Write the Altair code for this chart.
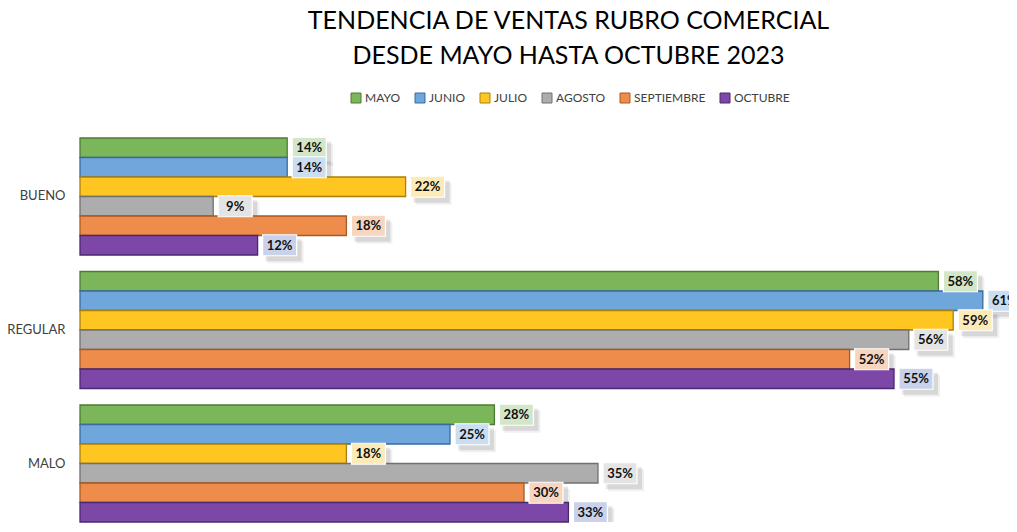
import altair as alt
import pandas as pd

categorias = ["BUENO", "REGULAR", "MALO"]
meses = ["MAYO", "JUNIO", "JULIO", "AGOSTO", "SEPTIEMBRE", "OCTUBRE"]
mayo = [14, 58, 28]
junio = [14, 61, 25]
julio = [22, 59, 18]
agosto = [9, 56, 35]
septiembre = [18, 52, 30]
octubre = [12, 55, 33]

colores = ["#7CB65A", "#6FA6DC", "#FFC622", "#ADADAD", "#EE8D4B", "#7D47A7"]
bordes = ["#4F7A35", "#3A6B9F", "#A9800B", "#707070", "#A85A24", "#4A2870"]
tintes = ["#D3E6C7", "#CBDDF1", "#FCEBB9", "#E4E4E4", "#F7D5BF", "#C9D2EA"]

series = [mayo, junio, julio, agosto, septiembre, octubre]
rows = []
for mes, vals, tinte in zip(meses, series, tintes):
    for cat, v in zip(categorias, vals):
        rows.append({"cat": cat, "mes": mes, "v": v / 100, "lab": f"{v}%", "tinte": tinte})
df = pd.DataFrame(rows)

FONT = "Lato"
XMAX = 0.6277

y_enc = alt.Y("cat:N", sort=categorias, title=None,
              scale=alt.Scale(paddingInner=0.1236, paddingOuter=0),
              axis=alt.Axis(domain=False, ticks=False, tickSize=0, labelPadding=15,
                            labelFont=FONT, labelFontSize=13, labelColor="#404040"))
yoff = alt.YOffset("mes:N", sort=meses, scale=alt.Scale(paddingInner=0, paddingOuter=0))
x_enc = alt.X("v:Q", title=None, scale=alt.Scale(domain=[0, XMAX], nice=False, zero=True),
              axis=None)

base = alt.Chart(df).encode(y=y_enc, yOffset=yoff, x=x_enc)

k = 17.0
def box_path(x0, x1, y0, y1):
    return f"M{x0/k:.4f},{y0/k:.4f}L{x1/k:.4f},{y0/k:.4f}L{x1/k:.4f},{y1/k:.4f}L{x0/k:.4f},{y1/k:.4f}Z"

p_box = box_path(5, 39, -10.5, 10.5)
p_sh1 = box_path(8, 44, -6, 16)
p_sh2 = box_path(10, 46, -4, 18)

shadow2 = base.mark_point(shape=p_sh2, size=k * k * 4, filled=True, fill="#000000",
                          opacity=0.06, strokeWidth=0, clip=True)
shadow1 = base.mark_point(shape=p_sh1, size=k * k * 4, filled=True, fill="#000000",
                          opacity=0.1, strokeWidth=0, clip=True)

bars = base.mark_bar(strokeWidth=1.3).encode(
    color=alt.Color("mes:N", sort=meses, title=None,
                    scale=alt.Scale(domain=meses, range=colores),
                    legend=alt.Legend(symbolType="square")),
    stroke=alt.Stroke("mes:N", sort=meses, title=None,
                      scale=alt.Scale(domain=meses, range=bordes)),
)

box = base.mark_point(shape=p_box, size=k * k * 4, filled=True, opacity=1,
                      stroke="#FFFFFF", strokeWidth=1.2, clip=True).encode(
    fill=alt.Fill("tinte:N", scale=None)
)

labels = base.mark_text(align="center", baseline="middle", dx=22, dy=0.5,
                        font=FONT, fontSize=13, fontWeight="bold",
                        color="#111111", clip=True).encode(text="lab:N")

chart = alt.layer(shadow2, shadow1, bars, box, labels).properties(
    width=929, height=384,
    padding={"left": 72, "top": 130, "right": 0, "bottom": 2},
    autosize=alt.AutoSizeParams(type="none"),
    title=alt.Title(["TENDENCIA DE VENTAS RUBRO COMERCIAL", "DESDE MAYO HASTA OCTUBRE 2023"],
                    font=FONT, fontSize=25, fontWeight="normal", color="#000000",
                    lineHeight=35, anchor="middle", dx=24, offset=23),
).configure_view(stroke=None).configure_legend(
    orient="none", legendX=270, legendY=-46, direction="horizontal",
    labelFont=FONT, labelFontSize=12, labelColor="#404040",
    symbolSize=100, symbolStrokeWidth=1, labelOffset=3, columnPadding=12,
    symbolType="square",
)

chart.save("out.html", embed_options={"renderer": "svg", "actions": False})
